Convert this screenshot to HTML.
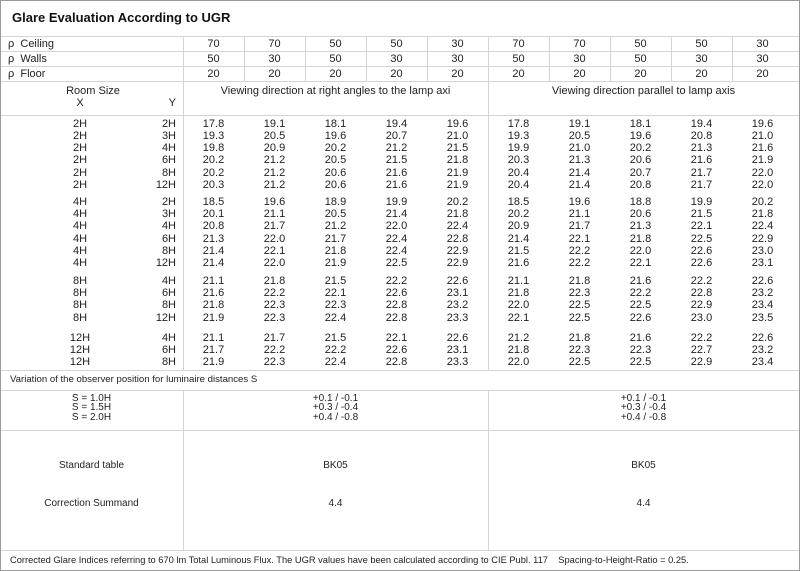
<!DOCTYPE html>
<html><head><meta charset="utf-8"><style>
body{margin:0;width:800px;height:571px;background:#fff;position:relative;overflow:hidden;font-family:"Liberation Sans","DejaVu Sans",sans-serif;font-size:11px;color:#222}
.b{position:absolute;border:1px solid #9a9a9a;left:0;top:0;width:798px;height:569px}
.h{position:absolute;height:1px;background:#d4d4d4}
.v{position:absolute;width:1px;background:#d4d4d4}
.r{position:absolute;left:0;width:800px;height:12px;line-height:12px}
.r span{position:absolute;text-align:center;width:61px}
.r .x{left:50px;width:60px}
.r .y{left:120px;width:56px;text-align:right}
.c1{left:183px}.c2{left:244px}.c3{left:305px}.c4{left:366px}.c5{left:427px}.c6{left:488px}.c7{left:549px}.c8{left:610px}.c9{left:671px}.c10{left:732px}
.t{position:absolute;white-space:nowrap}
</style></head><body>
<div class="b"></div>
<div class="t" style="left:12px;top:10px;font-size:13px;font-weight:bold;color:#111">Glare Evaluation According to UGR</div>
<div class="h" style="left:1px;width:798px;top:36px"></div>
<div class="h" style="left:1px;width:798px;top:51px"></div>
<div class="h" style="left:1px;width:798px;top:66px"></div>
<div class="h" style="left:1px;width:798px;top:81px"></div>
<div class="h" style="left:1px;width:798px;top:115px"></div>
<div class="h" style="left:1px;width:798px;top:370px"></div>
<div class="h" style="left:1px;width:798px;top:390px"></div>
<div class="h" style="left:1px;width:798px;top:430px"></div>
<div class="h" style="left:1px;width:798px;top:550px"></div>
<div class="v" style="left:183px;top:36px;height:334px"></div>
<div class="v" style="left:183px;top:390px;height:160px"></div>
<div class="v" style="left:488px;top:36px;height:334px"></div>
<div class="v" style="left:488px;top:390px;height:160px"></div>
<div class="v" style="left:244px;top:36px;height:45px"></div>
<div class="v" style="left:305px;top:36px;height:45px"></div>
<div class="v" style="left:366px;top:36px;height:45px"></div>
<div class="v" style="left:427px;top:36px;height:45px"></div>
<div class="v" style="left:549px;top:36px;height:45px"></div>
<div class="v" style="left:610px;top:36px;height:45px"></div>
<div class="v" style="left:671px;top:36px;height:45px"></div>
<div class="v" style="left:732px;top:36px;height:45px"></div>

<div class="r" style="top:38px"><span style="left:8px;width:80px;text-align:left">ρ&nbsp; Ceiling</span><span class="c1">70</span><span class="c2">70</span><span class="c3">50</span><span class="c4">50</span><span class="c5">30</span><span class="c6">70</span><span class="c7">70</span><span class="c8">50</span><span class="c9">50</span><span class="c10">30</span></div>
<div class="r" style="top:53px"><span style="left:8px;width:80px;text-align:left">ρ&nbsp; Walls</span><span class="c1">50</span><span class="c2">30</span><span class="c3">50</span><span class="c4">30</span><span class="c5">30</span><span class="c6">50</span><span class="c7">30</span><span class="c8">50</span><span class="c9">30</span><span class="c10">30</span></div>
<div class="r" style="top:68px"><span style="left:8px;width:80px;text-align:left">ρ&nbsp; Floor</span><span class="c1">20</span><span class="c2">20</span><span class="c3">20</span><span class="c4">20</span><span class="c5">20</span><span class="c6">20</span><span class="c7">20</span><span class="c8">20</span><span class="c9">20</span><span class="c10">20</span></div>
<div class="r" style="top:85px"><span style="left:40px;width:106px">Room Size</span><span style="left:183px;width:305px">Viewing direction at right angles to the lamp axi</span><span style="left:488px;width:311px">Viewing direction parallel to lamp axis</span></div>
<div class="r" style="top:97px"><span class="x">X</span><span class="y">Y</span></div>

<div class="r" style="top:118px"><span class="x">2H</span><span class="y">2H</span><span class="c1">17.8</span><span class="c2">19.1</span><span class="c3">18.1</span><span class="c4">19.4</span><span class="c5">19.6</span><span class="c6">17.8</span><span class="c7">19.1</span><span class="c8">18.1</span><span class="c9">19.4</span><span class="c10">19.6</span></div>
<div class="r" style="top:130px"><span class="x">2H</span><span class="y">3H</span><span class="c1">19.3</span><span class="c2">20.5</span><span class="c3">19.6</span><span class="c4">20.7</span><span class="c5">21.0</span><span class="c6">19.3</span><span class="c7">20.5</span><span class="c8">19.6</span><span class="c9">20.8</span><span class="c10">21.0</span></div>
<div class="r" style="top:142px"><span class="x">2H</span><span class="y">4H</span><span class="c1">19.8</span><span class="c2">20.9</span><span class="c3">20.2</span><span class="c4">21.2</span><span class="c5">21.5</span><span class="c6">19.9</span><span class="c7">21.0</span><span class="c8">20.2</span><span class="c9">21.3</span><span class="c10">21.6</span></div>
<div class="r" style="top:154px"><span class="x">2H</span><span class="y">6H</span><span class="c1">20.2</span><span class="c2">21.2</span><span class="c3">20.5</span><span class="c4">21.5</span><span class="c5">21.8</span><span class="c6">20.3</span><span class="c7">21.3</span><span class="c8">20.6</span><span class="c9">21.6</span><span class="c10">21.9</span></div>
<div class="r" style="top:167px"><span class="x">2H</span><span class="y">8H</span><span class="c1">20.2</span><span class="c2">21.2</span><span class="c3">20.6</span><span class="c4">21.6</span><span class="c5">21.9</span><span class="c6">20.4</span><span class="c7">21.4</span><span class="c8">20.7</span><span class="c9">21.7</span><span class="c10">22.0</span></div>
<div class="r" style="top:179px"><span class="x">2H</span><span class="y">12H</span><span class="c1">20.3</span><span class="c2">21.2</span><span class="c3">20.6</span><span class="c4">21.6</span><span class="c5">21.9</span><span class="c6">20.4</span><span class="c7">21.4</span><span class="c8">20.8</span><span class="c9">21.7</span><span class="c10">22.0</span></div>

<div class="r" style="top:196px"><span class="x">4H</span><span class="y">2H</span><span class="c1">18.5</span><span class="c2">19.6</span><span class="c3">18.9</span><span class="c4">19.9</span><span class="c5">20.2</span><span class="c6">18.5</span><span class="c7">19.6</span><span class="c8">18.8</span><span class="c9">19.9</span><span class="c10">20.2</span></div>
<div class="r" style="top:208px"><span class="x">4H</span><span class="y">3H</span><span class="c1">20.1</span><span class="c2">21.1</span><span class="c3">20.5</span><span class="c4">21.4</span><span class="c5">21.8</span><span class="c6">20.2</span><span class="c7">21.1</span><span class="c8">20.6</span><span class="c9">21.5</span><span class="c10">21.8</span></div>
<div class="r" style="top:220px"><span class="x">4H</span><span class="y">4H</span><span class="c1">20.8</span><span class="c2">21.7</span><span class="c3">21.2</span><span class="c4">22.0</span><span class="c5">22.4</span><span class="c6">20.9</span><span class="c7">21.7</span><span class="c8">21.3</span><span class="c9">22.1</span><span class="c10">22.4</span></div>
<div class="r" style="top:233px"><span class="x">4H</span><span class="y">6H</span><span class="c1">21.3</span><span class="c2">22.0</span><span class="c3">21.7</span><span class="c4">22.4</span><span class="c5">22.8</span><span class="c6">21.4</span><span class="c7">22.1</span><span class="c8">21.8</span><span class="c9">22.5</span><span class="c10">22.9</span></div>
<div class="r" style="top:245px"><span class="x">4H</span><span class="y">8H</span><span class="c1">21.4</span><span class="c2">22.1</span><span class="c3">21.8</span><span class="c4">22.4</span><span class="c5">22.9</span><span class="c6">21.5</span><span class="c7">22.2</span><span class="c8">22.0</span><span class="c9">22.6</span><span class="c10">23.0</span></div>
<div class="r" style="top:257px"><span class="x">4H</span><span class="y">12H</span><span class="c1">21.4</span><span class="c2">22.0</span><span class="c3">21.9</span><span class="c4">22.5</span><span class="c5">22.9</span><span class="c6">21.6</span><span class="c7">22.2</span><span class="c8">22.1</span><span class="c9">22.6</span><span class="c10">23.1</span></div>

<div class="r" style="top:275px"><span class="x">8H</span><span class="y">4H</span><span class="c1">21.1</span><span class="c2">21.8</span><span class="c3">21.5</span><span class="c4">22.2</span><span class="c5">22.6</span><span class="c6">21.1</span><span class="c7">21.8</span><span class="c8">21.6</span><span class="c9">22.2</span><span class="c10">22.6</span></div>
<div class="r" style="top:287px"><span class="x">8H</span><span class="y">6H</span><span class="c1">21.6</span><span class="c2">22.2</span><span class="c3">22.1</span><span class="c4">22.6</span><span class="c5">23.1</span><span class="c6">21.8</span><span class="c7">22.3</span><span class="c8">22.2</span><span class="c9">22.8</span><span class="c10">23.2</span></div>
<div class="r" style="top:299px"><span class="x">8H</span><span class="y">8H</span><span class="c1">21.8</span><span class="c2">22.3</span><span class="c3">22.3</span><span class="c4">22.8</span><span class="c5">23.2</span><span class="c6">22.0</span><span class="c7">22.5</span><span class="c8">22.5</span><span class="c9">22.9</span><span class="c10">23.4</span></div>
<div class="r" style="top:312px"><span class="x">8H</span><span class="y">12H</span><span class="c1">21.9</span><span class="c2">22.3</span><span class="c3">22.4</span><span class="c4">22.8</span><span class="c5">23.3</span><span class="c6">22.1</span><span class="c7">22.5</span><span class="c8">22.6</span><span class="c9">23.0</span><span class="c10">23.5</span></div>

<div class="r" style="top:332px"><span class="x">12H</span><span class="y">4H</span><span class="c1">21.1</span><span class="c2">21.7</span><span class="c3">21.5</span><span class="c4">22.1</span><span class="c5">22.6</span><span class="c6">21.2</span><span class="c7">21.8</span><span class="c8">21.6</span><span class="c9">22.2</span><span class="c10">22.6</span></div>
<div class="r" style="top:344px"><span class="x">12H</span><span class="y">6H</span><span class="c1">21.7</span><span class="c2">22.2</span><span class="c3">22.2</span><span class="c4">22.6</span><span class="c5">23.1</span><span class="c6">21.8</span><span class="c7">22.3</span><span class="c8">22.3</span><span class="c9">22.7</span><span class="c10">23.2</span></div>
<div class="r" style="top:356px"><span class="x">12H</span><span class="y">8H</span><span class="c1">21.9</span><span class="c2">22.3</span><span class="c3">22.4</span><span class="c4">22.8</span><span class="c5">23.3</span><span class="c6">22.0</span><span class="c7">22.5</span><span class="c8">22.5</span><span class="c9">22.9</span><span class="c10">23.4</span></div>

<div class="t" style="left:10px;top:374px;font-size:9.6px">Variation of the observer position for luminaire distances S</div>
<div class="t" style="left:0;width:183px;top:394px;text-align:center;line-height:9.3px;font-size:10px">S = 1.0H<br>S = 1.5H<br>S = 2.0H</div>
<div class="t" style="left:183px;width:305px;top:394px;text-align:center;line-height:9.3px;font-size:10px">+0.1 / -0.1<br>+0.3 / -0.4<br>+0.4 / -0.8</div>
<div class="t" style="left:488px;width:311px;top:394px;text-align:center;line-height:9.3px;font-size:10px">+0.1 / -0.1<br>+0.3 / -0.4<br>+0.4 / -0.8</div>
<div class="t" style="left:0;width:183px;top:460px;text-align:center;font-size:10px">Standard table</div>
<div class="t" style="left:183px;width:305px;top:460px;text-align:center;font-size:10px">BK05</div>
<div class="t" style="left:488px;width:311px;top:460px;text-align:center;font-size:10px">BK05</div>
<div class="t" style="left:0;width:183px;top:498px;text-align:center;font-size:10px">Correction Summand</div>
<div class="t" style="left:183px;width:305px;top:498px;text-align:center;font-size:10px">4.4</div>
<div class="t" style="left:488px;width:311px;top:498px;text-align:center;font-size:10px">4.4</div>
<div class="t" style="left:10px;top:555px;font-size:9.3px">Corrected Glare Indices referring to 670 lm Total Luminous Flux. The UGR values have been calculated according to CIE Publ. 117&nbsp;&nbsp;&nbsp; Spacing-to-Height-Ratio = 0.25.</div>
</body></html>
